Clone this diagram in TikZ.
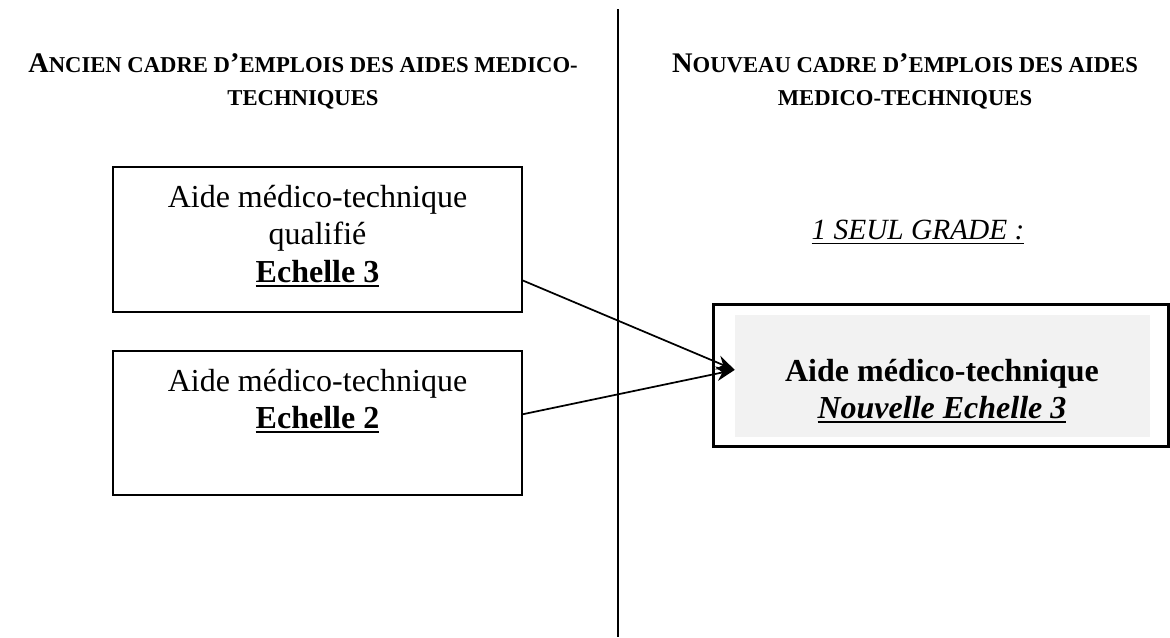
\documentclass[tikz,border=0pt]{standalone}
\usepackage{fontspec}
\setmainfont{Liberation Serif}
\usetikzlibrary{arrows.meta,calc}

\definecolor{grisclair}{HTML}{F2F2F2}
\newcommand{\grande}[1]{{\fontsize{21.3}{24.75}\selectfont #1}}
\newcommand{\souligne}[2][1.6pt]{\leavevmode\sbox0{#2}\rlap{\rule[-3.4pt]{\wd0}{#1}}\usebox0}

\begin{document}
\begin{tikzpicture}[x=0.75pt,y=0.75pt,yscale=-1,xscale=1,
    titre/.style={inner sep=0.75pt, align=center, font=\bfseries\fontsize{17}{24.75}\selectfont},
    texte/.style={inner sep=0.75pt, align=center, font=\fontsize{24}{28}\selectfont},
    boite/.style={draw, line width=1.4pt, minimum width=306.75pt, minimum height=108.5pt, inner sep=0},
    fleche/.style={line width=1.3pt, -{Stealth[length=14pt,width=11pt]}}]
\useasboundingbox (0,0) rectangle (1170,637);

%Straight Lines [id:separateur]
\draw [line width=1.5pt]   (617.5,9) -- (617.5,637) ;

% Text Node
\draw (303,52) node [anchor=north][titre] (titreAncien) {\grande{A}NCIEN CADRE D\grande{’}EMPLOIS DES AIDES MEDICO-\\TECHNIQUES};
% Text Node
\draw (905,52) node [anchor=north][titre] (titreNouveau) {\grande{N}OUVEAU CADRE D\grande{’}EMPLOIS DES AIDES\\MEDICO-TECHNIQUES};

%Shape: Rectangle [id:qualifie]
\draw (317.5,239.5) node [boite] (boiteQualifie) {};
% Text Node
\draw (317.5,184) node [anchor=north][texte] (texteQualifie) {Aide médico-technique\\qualifié\\\souligne{\textbf{Echelle 3}}};

%Shape: Rectangle [id:aide]
\draw (317.5,423) node [boite] (boiteAide) {};
% Text Node
\draw (317.5,368) node [anchor=north][texte] (texteAide) {Aide médico-technique\\\souligne{\textbf{Echelle 2}}};

% Text Node
\draw (918,219) node [anchor=north][texte][font=\fontsize{22}{26}\selectfont] (grade) {\souligne[1.1pt]{\itshape 1 SEUL GRADE :}};

%Shape: Rectangle [id:nouveau]
\draw (940.5,375) node [draw, line width=2.25pt, minimum width=341.25pt, minimum height=106.5pt, inner sep=0] (boiteNouveau) {};
%Shape: Rectangle [id:fond]
\draw (942.5,376) node [fill=grisclair, minimum width=311.25pt, minimum height=91.5pt, inner sep=0] (fondNouveau) {};
% Text Node
\draw (942,358) node [anchor=north][texte] (texteNouveau) {\textbf{Aide médico-technique}\\\souligne{\textbf{\itshape Nouvelle Echelle 3}}};

% Connectors
\draw [fleche] ($(boiteQualifie.south east)!0.22!(boiteQualifie.north east)$) -- ($(fondNouveau.north west)!0.45!(fondNouveau.south west)$) ;
\draw [fleche] ($(boiteAide.south east)!0.56!(boiteAide.north east)$) -- ($(fondNouveau.north west)!0.45!(fondNouveau.south west)$) ;

\end{tikzpicture}
\end{document}
